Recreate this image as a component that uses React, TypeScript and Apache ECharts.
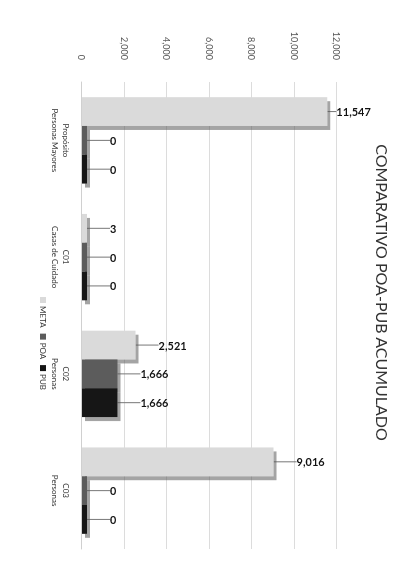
import React, { useEffect, useRef } from "react";
import * as echarts from "echarts";

const titleText = "COMPARATIVO POA-PUB ACUMULADO";
const categories = [
  "Propósito\nPersonas Mayores",
  "C01\nCasas de Cuidado",
  "C02\nPersonas",
  "C03\nPersonas",
];
const seriesNames = ["META", "POA", "PUB"];
const metaValues = [11547, 3, 2521, 9016];
const poaValues = [0, 0, 1666, 0];
const pubValues = [0, 0, 1666, 0];
const valueMax = 12000;
const valueInterval = 2000;

const colors = ["#dadada", "#5c5c5c", "#141414"];
const fmt = (v: number) => Number(v).toLocaleString("en-US");

export default function App() {
  const ref = useRef<HTMLDivElement>(null);
  useEffect(() => {
    if (!ref.current) return;
    const chart = echarts.init(ref.current, undefined, { renderer: "svg" });
    const mkSeries = (name: string, data: number[], color: string) => ({
      name,
      type: "bar",
      data,
      barGap: "0%",
      barCategoryGap: "26%",
      barMinHeight: 5,
      itemStyle: {
        color,
        shadowColor: "rgba(90,90,90,0.55)",
        shadowOffsetX: 4,
        shadowOffsetY: -3,
        shadowBlur: 0,
      },
      label: {
        show: true,
        position: "top",
        rotate: 90,
        align: "left",
        verticalAlign: "middle",
        distance: 3,
        fontFamily: "Lato",
        fontWeight: "bold",
        fontSize: 11,
        color: "#111",
        formatter: (p: any) => fmt(p.value),
      },
      labelLayout: (p: any) => ({ dx: p.dataIndex === 0 && name === "META" ? 6 : 20 }),
      labelLine: { show: true, lineStyle: { color: "#777", width: 1 } },
    });
    chart.setOption({
      animation: false,
      backgroundColor: "#ffffff",
      color: colors,
      title: {
        text: titleText,
        left: "center",
        top: 14,
        textStyle: {
          fontFamily: "Lato",
          fontSize: 16,
          fontWeight: "normal",
          color: "#333",
        },
      },
      legend: {
        data: seriesNames,
        left: 292,
        top: 358,
        itemWidth: 6,
        itemHeight: 6,
        itemGap: 6,
        icon: "rect",
        textStyle: { fontFamily: "Lato", fontSize: 8, color: "#333", padding: [0, 0, 0, -2] },
      },
      grid: { left: 82, right: 36, top: 73, bottom: 82 },
      xAxis: {
        type: "category",
        data: categories,
        axisTick: { show: false },
        axisLine: { lineStyle: { color: "#d0d0d0" } },
        axisLabel: {
          interval: 0,
          margin: 10,
          fontFamily: "Lato",
          fontSize: 8,
          lineHeight: 11,
          color: "#333",
        },
      },
      yAxis: {
        type: "value",
        min: 0,
        max: valueMax,
        interval: valueInterval,
        axisLine: { show: false },
        axisTick: { show: false },
        splitLine: { lineStyle: { color: "#dcdcdc" } },
        axisLabel: {
          margin: 22,
          fontFamily: "Lato",
          fontSize: 9,
          color: "#555",
          formatter: (v: number) => fmt(v),
        },
      },
      series: [
        mkSeries(seriesNames[0], metaValues, colors[0]),
        mkSeries(seriesNames[1], poaValues, colors[1]),
        mkSeries(seriesNames[2], pubValues, colors[2]),
      ],
    });
    return () => chart.dispose();
  }, []);
  return (
    <div
      ref={ref}
      style={{
        position: "fixed",
        left: 0,
        top: 0,
        width: 585,
        height: 410,
        transformOrigin: "0 0",
        transform: "translateX(410px) rotate(90deg)",
        background: "#fff",
      }}
    />
  );
}
